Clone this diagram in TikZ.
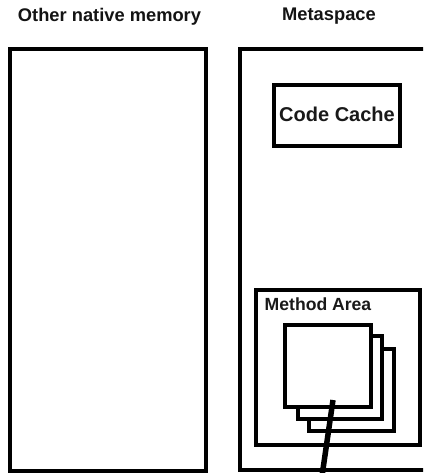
\documentclass[tikz,border=0pt]{standalone}
\usepackage{fontspec}
\setmainfont{Liberation Sans}
\begin{document}
\begin{tikzpicture}[x=1pt,y=-1pt,
  box/.style={draw=black,line width=3.3pt},
  page/.style={draw=black,line width=3.3pt,fill=white},
  title/.style={font=\bfseries\fontsize{18.3}{20}\selectfont,text=black!92,inner sep=0pt,anchor=base},
  label/.style={font=\bfseries\fontsize{#1}{#1}\selectfont,text=black!90,inner sep=0pt},
  conn/.style={draw=black,line width=5.5pt}]
\clip (0,0) rectangle (423,473);
\fill[white] (0,0) rectangle (423,473);
% titles
\node[title] (t1) at (109.5,21.5) {Other native memory};
\node[title] (t2) at (329,20.5) {Metaspace};
% left box
\draw[box] (10,49) rectangle (206,471);
% metaspace box (right edge off canvas)
\draw[box] (240,49) rectangle (430,470);
% code cache
\draw[box] (274,85) rectangle (400,146);
\node[label=20,anchor=base] (cc) at (337,122) {Code Cache};
% method area
\draw[box] (256,290) rectangle (420,445);
\node[label=17.6,anchor=base west] (ma) at (264.5,310) {Method Area};
% pages
\draw[page] (309,349) rectangle (394,431);
\draw[page] (298,336) rectangle (382,419);
\draw[page] (285,325) rectangle (371,407);
\coordinate (c1) at (333,400);
\coordinate (c2) at (322,476);
\draw[conn] (c1) -- (c2);
\end{tikzpicture}
\end{document}
